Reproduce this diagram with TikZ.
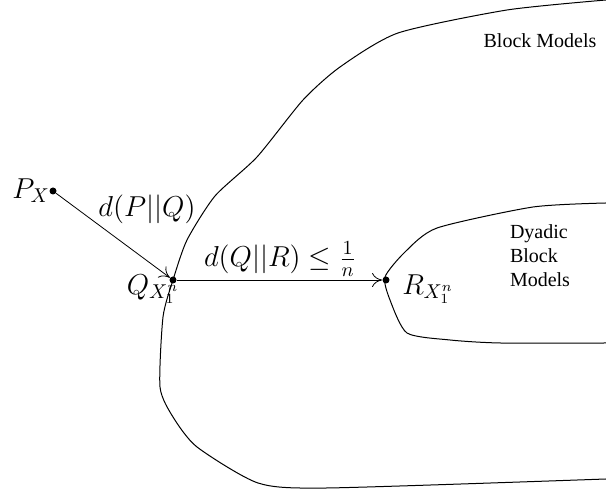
\documentclass[tikz,border=0pt]{standalone}
\usepackage[no-math]{fontspec}
\setmainfont{Liberation Serif}
\usetikzlibrary{arrows.meta,positioning}

\begin{document}
\begin{tikzpicture}[x=0.5pt,y=-0.5pt,>={To[length=5pt,width=7pt]},font=\Large]
\tikzstyle{pt}=[circle,fill,inner sep=0pt,minimum size=3.5pt]
\tikzstyle{txt}=[font=\rmfamily\normalsize,align=left,inner sep=0pt]
\useasboundingbox (0,0) rectangle (606,490);
\draw[line width=0.5pt] plot[smooth,tension=0.4] coordinates {(606,0) (507,10) (398,33) (340,67) (303,100) (257,157) (215,196) (187,240) (173,280) (163,317) (160,387) (173,417) (197,447) (258,483) (327,488) (606,479)};
\draw[line width=0.5pt] plot[smooth,tension=0.4] coordinates {(606,203) (533,207) (437,228) (405,252) (385,277) (390,300) (407,333) (450,340) (500,343) (606,343)};
\node[pt] (P) at (53,191) {};
\node[pt] (Q) at (173,280) {};
\node[pt] (R) at (386,280) {};
\draw[->] (P) -- (Q);
\draw[->] (Q) -- (R);
\node (lp) at (31,191) {$P_X$};
\node (lq) at (153,289) {$Q_{X_1^n}$};
\node (lr) at (428,289) {$R_{X_1^n}$};
\node (dpq) at (147,209) {$d(P||Q)$};
\node (dqr) at (280,259) {$d(Q||R)\leq\frac{1}{n}$};
\node[txt] (bm) at (540,41) {Block Models};
\node[txt] (dbm) at (540,256) {Dyadic\\Block\\Models};
\end{tikzpicture}
\end{document}
